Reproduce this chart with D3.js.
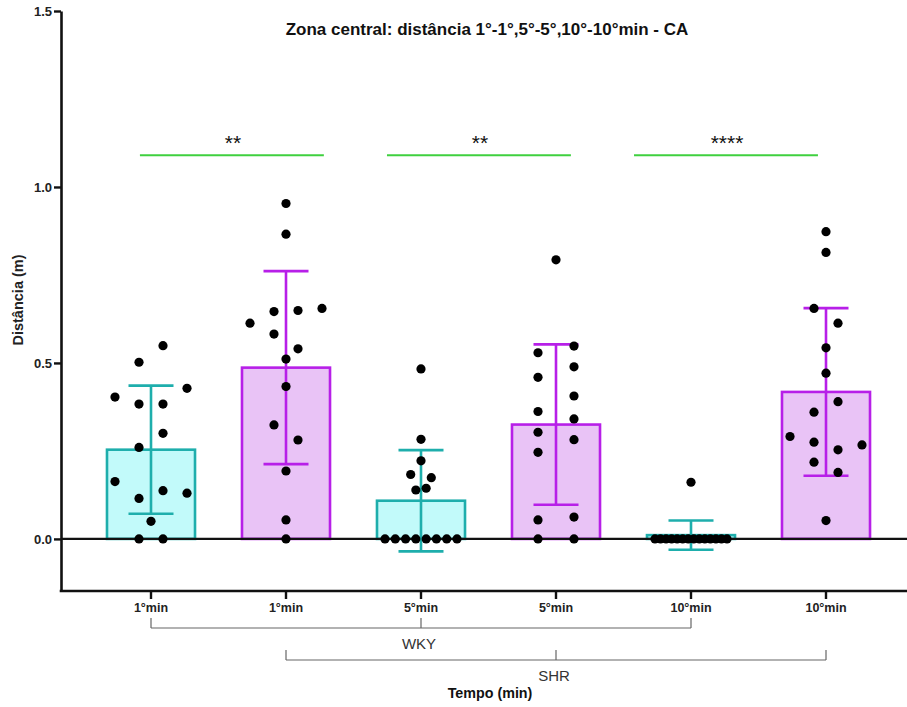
<!DOCTYPE html>
<html>
<head>
<meta charset="utf-8">
<script src="https://cdn.jsdelivr.net/npm/d3@7/dist/d3.min.js"></script>
<style>
  html, body { margin: 0; padding: 0; background: #fff; }
  svg { display: block; font-family: "Liberation Sans", Arial, sans-serif; }
</style>
</head>
<body>
<svg id="chart" width="907" height="707"></svg>
<script>
// Distance travelled in the central zone (m), one value per animal
const wky1  = [0.502, 0.549, 0.403, 0.383, 0.383, 0.428, 0.260, 0.300, 0.163, 0.115, 0.137, 0.130, 0.050, 0, 0];
const shr1  = [0.953, 0.866, 0.613, 0.646, 0.649, 0.655, 0.582, 0.540, 0.511, 0.433, 0.324, 0.281, 0.193, 0.054, 0];
const wky5  = [0.483, 0.283, 0.183, 0.222, 0.174, 0.139, 0.144, 0, 0, 0, 0, 0, 0, 0, 0];
const shr5  = [0.793, 0.529, 0.548, 0.459, 0.489, 0.362, 0.406, 0.303, 0.341, 0.246, 0.282, 0.054, 0.062, 0, 0];
const wky10 = [0.161, 0, 0, 0, 0, 0, 0, 0, 0, 0, 0, 0, 0, 0, 0];
const shr10 = [0.873, 0.814, 0.655, 0.613, 0.543, 0.471, 0.360, 0.390, 0.291, 0.275, 0.253, 0.267, 0.218, 0.189, 0.052];

const tickLabels = ["1°min", "1°min", "5°min", "5°min", "10°min", "10°min"];
const strains    = ["WKY", "SHR", "WKY", "SHR", "WKY", "SHR"];
const seriesValues = [wky1, shr1, wky5, shr5, wky10, shr10];
const yTicks = [0, 0.5, 1.0, 1.5];
const yDomain = [-0.148, 1.5];

// strain brackets under the axis: columns belonging to each strain
const strainNames = ["WKY", "SHR"];
// significance between paired columns
const comparisons = [[0, 1], [2, 3], [4, 5]];
const sigLabels = ["**", "**", "****"];
const sigLevel = 1.09;

const titleText = "Zona central: distância 1°-1°,5°-5°,10°-10°min - CA";
const yTitle = "Distância (m)";
const xTitle = "Tempo (min)";

const colors = {
  WKY: { stroke: "#1eaeac", fill: "#c2fafa" },
  SHR: { stroke: "#b71fe8", fill: "#e9c3f6" }
};

const svg = d3.select("#chart");
const plotLeft = 61, plotRight = 907, plotTop = 11, plotBottom = 591;

const idx = d3.range(seriesValues.length);
const x = d3.scaleBand()
  .domain(idx)
  .range([83.5, 893.5])
  .paddingInner(0.348)
  .paddingOuter(0.174);
const cx = i => x(i) + x.bandwidth() / 2;

const y = d3.scaleLinear().domain(yDomain).range([plotBottom, plotTop]);

// Column scatter: points close in height share a row and spread sideways
function spread(values) {
  const order = d3.range(values.length)
    .sort((a, b) => d3.descending(values[a], values[b]) || a - b);
  const rows = [];
  let cur = null;
  order.forEach(i => {
    const py = y(values[i]);
    if (cur && py - cur.last <= 17 && py - cur.first <= 20) {
      cur.items.push(i); cur.last = py;
    } else {
      cur = { items: [i], first: py, last: py };
      rows.push(cur);
    }
  });
  const maxN = d3.max(rows, r => r.items.length);
  const step = maxN > 1 ? Math.min(36, 72 / (maxN - 1)) : 0;
  const off = new Array(values.length);
  rows.forEach(r => {
    r.items.sort((a, b) => a - b);
    const n = r.items.length;
    r.items.forEach((i, k) => { off[i] = (k - (n - 1) / 2) * step; });
  });
  return off;
}

const stats = seriesValues.map((v, i) => ({
  i,
  strain: strains[i],
  mean: d3.mean(v),
  sd: d3.deviation(v),
  values: v
}));

// bars
svg.append("g").selectAll("rect").data(stats).join("rect")
  .attr("x", d => x(d.i))
  .attr("width", x.bandwidth())
  .attr("y", d => y(d.mean))
  .attr("height", d => y(0) - y(d.mean))
  .attr("fill", d => colors[d.strain].fill)
  .attr("stroke", d => colors[d.strain].stroke)
  .attr("stroke-width", 2.6);

// zero line
svg.append("line")
  .attr("x1", plotLeft).attr("x2", plotRight)
  .attr("y1", y(0)).attr("y2", y(0))
  .attr("stroke", "#111").attr("stroke-width", 2.4);

// error bars (mean ± SD)
const eb = svg.append("g").selectAll("g").data(stats).join("g")
  .attr("stroke", d => colors[d.strain].stroke)
  .attr("stroke-width", 2.6)
  .attr("fill", "none");
eb.append("line")
  .attr("x1", d => cx(d.i)).attr("x2", d => cx(d.i))
  .attr("y1", d => y(d.mean + d.sd)).attr("y2", d => y(d.mean - d.sd));
eb.append("line")
  .attr("x1", d => cx(d.i) - 22.5).attr("x2", d => cx(d.i) + 22.5)
  .attr("y1", d => y(d.mean + d.sd)).attr("y2", d => y(d.mean + d.sd));
eb.append("line")
  .attr("x1", d => cx(d.i) - 22.5).attr("x2", d => cx(d.i) + 22.5)
  .attr("y1", d => y(d.mean - d.sd)).attr("y2", d => y(d.mean - d.sd));

// individual points
stats.forEach(d => {
  const off = spread(d.values);
  svg.append("g").selectAll("circle").data(d.values).join("circle")
    .attr("cx", (v, k) => cx(d.i) + off[k])
    .attr("cy", v => y(v))
    .attr("r", 4.6)
    .attr("fill", "#000");
});

// y axis
const yAxis = svg.append("g")
  .attr("transform", `translate(${plotLeft},0)`)
  .call(d3.axisLeft(y).tickValues(yTicks).tickFormat(d3.format(".1f")).tickSize(7).tickSizeOuter(0));
yAxis.select(".domain").attr("stroke", "#111").attr("stroke-width", 2.6);
yAxis.selectAll(".tick line").attr("stroke", "#111").attr("stroke-width", 2.4);
yAxis.selectAll(".tick text")
  .attr("font-size", 13).attr("font-weight", "bold").attr("fill", "#222")
  .attr("font-family", "Liberation Sans, Arial, sans-serif").attr("x", -9);

// x axis
svg.append("line")
  .attr("x1", plotLeft - 1.3).attr("x2", plotRight)
  .attr("y1", plotBottom).attr("y2", plotBottom)
  .attr("stroke", "#111").attr("stroke-width", 2.6);
const xAxis = svg.append("g")
  .attr("transform", `translate(0,${plotBottom})`)
  .call(d3.axisBottom(x).tickFormat(i => tickLabels[i]).tickSize(8).tickSizeOuter(0));
xAxis.select(".domain").remove();
xAxis.selectAll(".tick line").attr("stroke", "#111").attr("stroke-width", 2.4);
xAxis.selectAll(".tick text")
  .attr("font-size", 12.5).attr("font-weight", "bold").attr("fill", "#222")
  .attr("font-family", "Liberation Sans, Arial, sans-serif").attr("y", 12);

// strain brackets
strainNames.forEach((s, k) => {
  const cols = idx.filter(i => strains[i] === s);
  const by = 628 + k * 32;
  const g = svg.append("g").attr("stroke", "#666").attr("stroke-width", 1.2).attr("fill", "none");
  g.append("line").attr("x1", cx(cols[0])).attr("x2", cx(cols[cols.length - 1])).attr("y1", by).attr("y2", by);
  cols.forEach(i => {
    g.append("line").attr("x1", cx(i)).attr("x2", cx(i)).attr("y1", by - 10).attr("y2", by);
  });
  svg.append("text")
    .attr("x", cx(cols[Math.floor(cols.length / 2)]) - 2)
    .attr("y", by + 21)
    .attr("text-anchor", "middle")
    .attr("font-size", 15).attr("fill", "#333")
    .text(s);
});

// significance annotations
comparisons.forEach(([a, b], k) => {
  const shrink = v => 376 + (v - 376) * 0.915;
  const x1 = shrink(cx(a) - 0.375 * x.bandwidth());
  const x2 = shrink(cx(b) + 0.375 * x.bandwidth());
  svg.append("line")
    .attr("x1", x1).attr("x2", x2)
    .attr("y1", y(sigLevel)).attr("y2", y(sigLevel))
    .attr("stroke", "#3fd03f").attr("stroke-width", 2);
  svg.append("text")
    .attr("x", (x1 + x2) / 2 + 1)
    .attr("y", y(sigLevel) - 5)
    .attr("text-anchor", "middle")
    .attr("font-size", 21).attr("fill", "#111")
    .text(sigLabels[k]);
});

// titles
svg.append("text")
  .attr("x", 487).attr("y", 35)
  .attr("text-anchor", "middle")
  .attr("font-size", 17).attr("font-weight", "bold").attr("fill", "#111")
  .text(titleText);

svg.append("text")
  .attr("transform", `translate(23,300) rotate(-90)`)
  .attr("text-anchor", "middle")
  .attr("font-size", 14.5).attr("font-weight", "bold").attr("fill", "#222")
  .text(yTitle);

svg.append("text")
  .attr("x", (plotLeft + plotRight) / 2 + 6).attr("y", 698)
  .attr("text-anchor", "middle")
  .attr("font-size", 14.3).attr("font-weight", "bold").attr("fill", "#111")
  .text(xTitle);
</script>
</body>
</html>
